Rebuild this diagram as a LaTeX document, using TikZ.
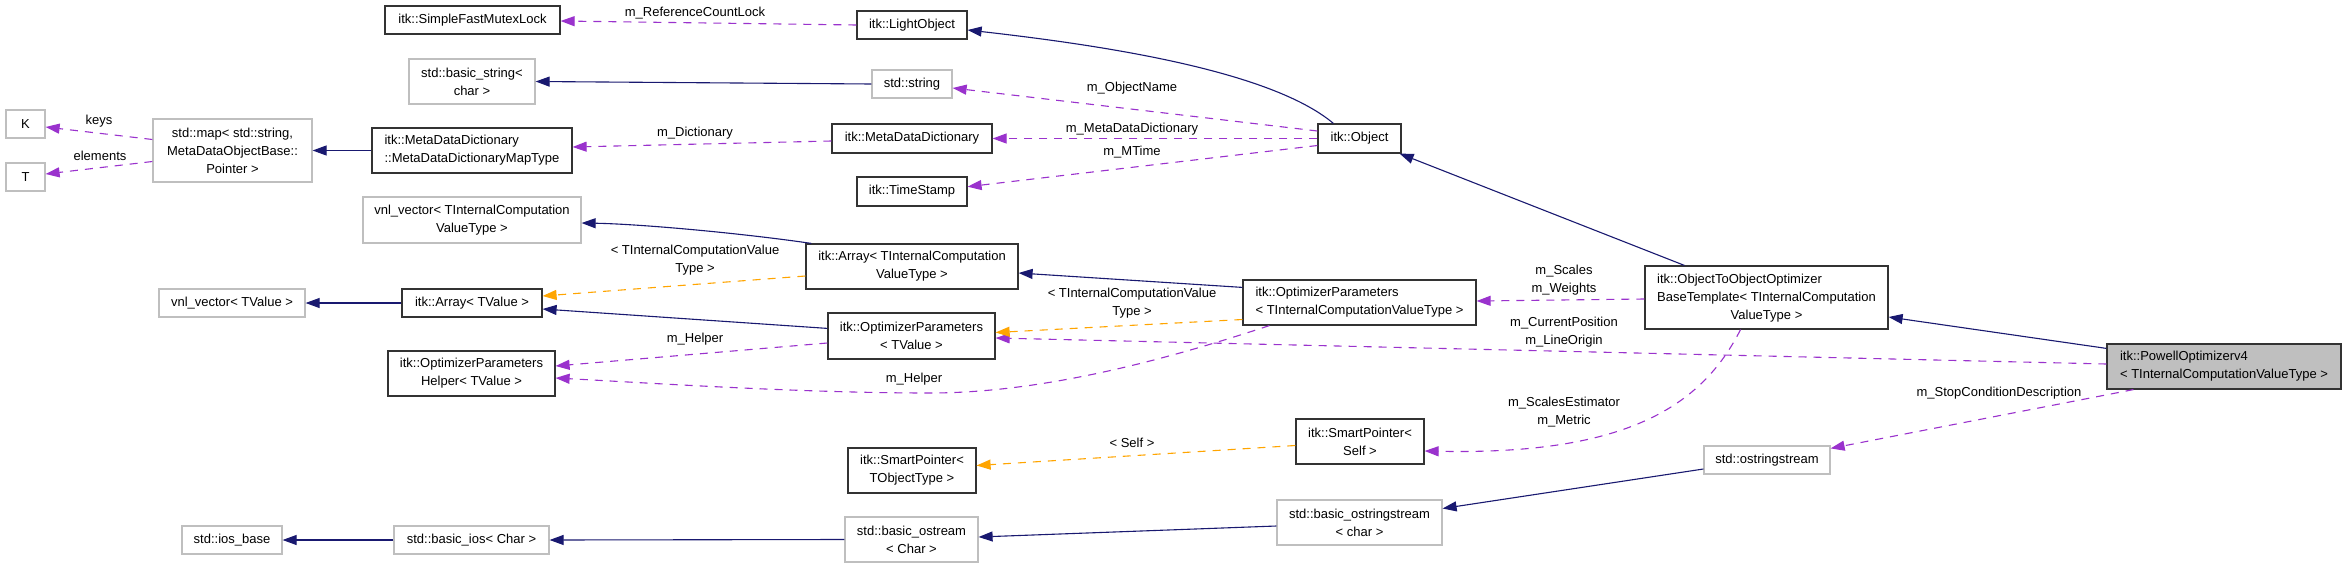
\documentclass[tikz,border=0pt]{standalone}
\usepackage{fontspec}
\setmainfont{Liberation Sans}
\usetikzlibrary{arrows.meta}
\definecolor{navy}{HTML}{191970}
\definecolor{purp}{HTML}{9A32CD}
\definecolor{orng}{HTML}{FFA500}
\definecolor{gbox}{HTML}{BFBFBF}
\begin{document}
\begin{tikzpicture}[x=1pt,y=-1pt,
  font=\fontsize{13}{18}\selectfont,
  cls/.style={draw=black!80, line width=1.2pt, fill=white, inner sep=0pt, align=center, anchor=center},
  ext/.style={draw=gbox, line width=1.2pt, fill=white, inner sep=0pt, align=center, anchor=center},
  inh/.style={-{Triangle[length=14pt,width=10pt,fill=navy]}, draw=navy, line width=1.1pt},
  use/.style={-{Triangle[length=14pt,width=10pt,fill=purp]}, draw=purp, line width=1.1pt, dash pattern=on 8pt off 7pt},
  tpl/.style={-{Triangle[length=14pt,width=10pt,fill=orng]}, draw=orng, line width=1.1pt, dash pattern=on 8pt off 7pt},
  lbl/.style={inner sep=0pt, align=center, anchor=center}]
\useasboundingbox (0,0) rectangle (2347,568);
\fill[white] (0,0) rectangle (2347,568);
% column 1
\node[ext, minimum width=39pt, minimum height=28pt] (K) at (25.5,124) {K};
\node[ext, minimum width=39pt, minimum height=28pt] (T) at (25.5,177) {T};
% column 2
\node[ext, minimum width=159pt, minimum height=63pt] (map) at (232.5,150.5) {std::map< std::string,\\MetaDataObjectBase::\\Pointer >};
\node[ext, minimum width=146pt, minimum height=28pt] (vnlV) at (232,303) {vnl\_vector< TValue >};
\node[ext, minimum width=100pt, minimum height=28pt] (iosb) at (232,540) {std::ios\_base};
% column 3
\node[cls, minimum width=175pt, minimum height=28pt] (sfml) at (472.5,20) {itk::SimpleFastMutexLock};
\node[ext, minimum width=126pt, minimum height=45pt] (bstr) at (472,81.5) {std::basic\_string<\\char >};
\node[cls, minimum width=200pt, minimum height=45pt, align=left] (mddmt) at (472,150.5) {itk::MetaDataDictionary\\::MetaDataDictionaryMapType};
\node[ext, minimum width=218pt, minimum height=46pt] (vnlT) at (472,220) {vnl\_vector< TInternalComputation\\ValueType >};
\node[cls, minimum width=140pt, minimum height=28pt] (arrV) at (472,303) {itk::Array< TValue >};
\node[cls, minimum width=167pt, minimum height=45pt] (helper) at (471.5,373.5) {itk::OptimizerParameters\\Helper< TValue >};
\node[ext, minimum width=155pt, minimum height=28pt] (bios) at (471.5,540) {std::basic\_ios< Char >};
% column 4
\node[cls, minimum width=110pt, minimum height=28pt] (light) at (912,25) {itk::LightObject};
\node[ext, minimum width=80pt, minimum height=28pt] (str) at (912,84) {std::string};
\node[cls, minimum width=160pt, minimum height=29pt] (mdd) at (912,138.5) {itk::MetaDataDictionary};
\node[cls, minimum width=110pt, minimum height=29pt] (ts) at (912,191.5) {itk::TimeStamp};
\node[cls, minimum width=212pt, minimum height=45pt] (arrT) at (912,266.5) {itk::Array< TInternalComputation\\ValueType >};
\node[cls, minimum width=167pt, minimum height=46pt] (opV) at (911.5,336) {itk::OptimizerParameters\\< TValue >};
\node[cls, minimum width=128pt, minimum height=45pt] (spO) at (912,470.5) {itk::SmartPointer<\\TObjectType >};
\node[ext, minimum width=133pt, minimum height=45pt] (bo) at (911.5,539.5) {std::basic\_ostream\\< Char >};
% column 5
\node[cls, minimum width=83pt, minimum height=29pt] (obj) at (1359.5,138.5) {itk::Object};
\node[cls, minimum width=233pt, minimum height=45pt, align=left] (opT) at (1359.5,302.5) {itk::OptimizerParameters\\< TInternalComputationValueType >};
\node[cls, minimum width=128pt, minimum height=45pt] (spS) at (1360,441.5) {itk::SmartPointer<\\Self >};
\node[ext, minimum width=165pt, minimum height=45pt] (bos) at (1359.5,522.5) {std::basic\_ostringstream\\< char >};
% column 6
\node[cls, minimum width=243pt, minimum height=63pt] (ooo) at (1766.5,297.5) {\begin{tabular}{@{}l@{}}itk::ObjectToObjectOptimizer\\BaseTemplate< TInternalComputation\\\multicolumn{1}{@{}c@{}}{ValueType >}\end{tabular}};
\node[ext, minimum width=126pt, minimum height=28pt] (ostr) at (1767,460) {std::ostringstream};
% column 7
\node[cls, fill=gbox, minimum width=234pt, minimum height=45pt, align=left] (powell) at (2224,366.5) {itk::PowellOptimizerv4\\< TInternalComputationValueType >};

% inheritance edges
\draw[inh] ([xshift=16pt]obj.north west) .. controls (1270,70) and (1100,45) .. ([yshift=-5pt]light.east);
\draw[inh] (str.west) -- (bstr.east);
\draw[inh] (mddmt.west) -- (map.east);
\draw[inh] ([xshift=40pt]ooo.north west) -- ([xshift=-2pt]obj.south east);
\draw[inh] ([xshift=6pt]arrT.north west) .. controls (740,233) and (640,224) .. ([yshift=-3pt]vnlT.east);
\draw[inh] ([yshift=-8pt]opT.north west) -- ([yshift=-6.5pt]arrT.east);
\draw[inh] (arrV.west) -- (vnlV.east);
\draw[inh] ([yshift=-16pt]opV.north west) -- ([yshift=-6pt]arrV.east);
\draw[inh] ([yshift=-5pt]powell.north west) -- ([yshift=-19.5pt]ooo.east);
\draw[inh] (bios.west) -- (iosb.east);
\draw[inh] (bo.west) -- (bios.east);
\draw[inh] ([yshift=-3.5pt]bos.west) -- ([yshift=2.5pt]bo.east);
\draw[inh] ([yshift=-9pt]ostr.west) -- ([yshift=14pt]bos.east);

% usage edges
\draw[use] (light.west) -- ([yshift=-1pt]sfml.east);
\draw[use] ([yshift=7.5pt]obj.west) -- ([yshift=-4pt]str.east);
\draw[use] (obj.west) -- (mdd.east);
\draw[use] ([yshift=-7pt]obj.west) -- ([yshift=4.8pt]ts.east);
\draw[use] ([yshift=-2.5pt]mdd.west) -- ([yshift=3.5pt]mddmt.east);
\draw[use] ([yshift=11pt]map.west) -- ([yshift=-3pt]K.east);
\draw[use] ([yshift=-11pt]map.west) -- ([yshift=3pt]T.east);
\draw[use] ([yshift=-1.5pt]ooo.west) -- ([yshift=1.5pt]opT.east);
\draw[use] ([yshift=2.5pt]powell.west) -- ([yshift=-2pt]opV.east);
\draw[use] ([yshift=-7pt]opV.west) -- ([yshift=7.5pt]helper.east);
\coordinate (kmid) at (930,393);
\draw[use] ([xshift=27pt]opT.south west) .. controls (1180,355) and (1050,393) .. (kmid) .. controls (800,393) and (650,383) .. ([yshift=-4.5pt]helper.east);
\draw[use] ([xshift=-26pt]ooo.south) .. controls (1700,410) and (1620,455) .. ([yshift=-9.5pt]spS.east);
\draw[use] ([xshift=27pt]powell.south west) -- ([yshift=-3pt]ostr.north east);

% template edges
\draw[tpl] ([yshift=-9.5pt]arrT.west) -- ([yshift=7pt]arrV.east);
\draw[tpl] ([yshift=-17pt]opT.west) -- ([yshift=3.5pt]opV.east);
\draw[tpl] ([yshift=-4pt]spS.west) -- ([yshift=5pt]spO.east);

% labels
\node[lbl] (lkeys) at (99,121) {keys};
\node[lbl] (lelem) at (100,156) {elements};
\node[lbl] (lrcl) at (695,13) {m\_ReferenceCountLock};
\node[lbl] (ldict) at (695,133) {m\_Dictionary};
\node[lbl] (ltplA) at (695,260) {< TInternalComputationValue\\Type >};
\node[lbl] (lhelp1) at (695,339) {m\_Helper};
\node[lbl] (lobjn) at (1132,88) {m\_ObjectName};
\node[lbl] (lmdd) at (1132,129) {m\_MetaDataDictionary};
\node[lbl] (lmt) at (1132,152) {m\_MTime};
\node[lbl] (ltplB) at (1132,303.5) {< TInternalComputationValue\\Type >};
\node[lbl] (lhelp2) at (914,379) {m\_Helper};
\node[lbl] (lself) at (1132,443) {< Self >};
\node[lbl] (lsc) at (1564,280) {m\_Scales\\m\_Weights};
\node[lbl] (lcp) at (1564,332) {m\_CurrentPosition\\m\_LineOrigin};
\node[lbl] (lse) at (1564,412.5) {m\_ScalesEstimator\\m\_Metric};
\node[lbl] (lstop) at (1999,393) {m\_StopConditionDescription};
\end{tikzpicture}
\end{document}
